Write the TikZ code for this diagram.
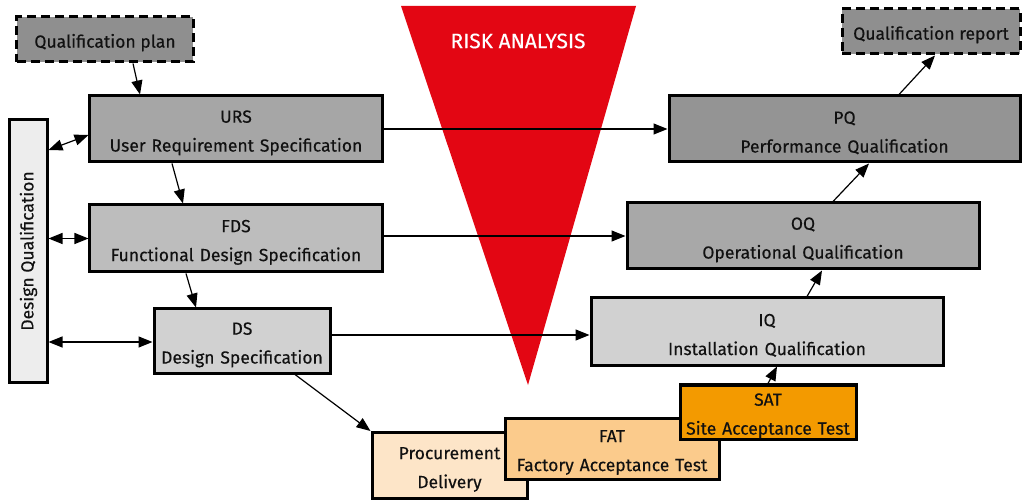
\documentclass[tikz,border=0pt]{standalone}
\usepackage{fontspec}
\setmainfont{Fira Sans}[FakeBold=0.3]
\usetikzlibrary{arrows.meta}
\definecolor{riskred}{HTML}{E30613}
\definecolor{txt}{HTML}{111111}
\tikzset{
  box/.style={draw=black, line width=3bp, inner sep=0pt, align=center, text=txt,
    font=\fontsize{17.6}{29}\selectfont, execute at begin node={\rule{0pt}{20bp}}},
  dbox/.style={box, dash pattern=on 9bp off 5bp},
  arr/.style={line width=1.2bp, -{Triangle[length=14bp,width=11bp]}},
  darr/.style={line width=1.2bp, {Triangle[length=14bp,width=11bp]}-{Triangle[length=14bp,width=11bp]}},
}
\begin{document}
\begin{tikzpicture}[x=1bp,y=-1bp]
\useasboundingbox (0,0) rectangle (1023,500);
\fill[riskred] (401,6) -- (636,6) -- (528,385) -- cycle;
\node[text=white, font=\fontsize{21}{24}\selectfont] (risk) at (518,41) {RISK ANALYSIS};

\node[dbox, fill=black!44, minimum width=176bp, minimum height=45bp] (qplan) at (105,39.5) {Qualification plan};
\node[box, fill=black!35, minimum width=292bp, minimum height=66bp, text width=292bp] (urs) at (236,129) {URS\\User Requirement Specification};
\node[box, fill=black!26, minimum width=292bp, minimum height=67bp, text width=292bp] (fds) at (236,238.5) {FDS\\Functional Design Specification};
\node[box, fill=black!18, minimum width=176bp, minimum height=64bp, text width=176bp] (ds) at (242,341) {DS\\Design Specification};
\node[box, fill=black!7, minimum width=37bp, minimum height=262bp, execute at begin node={}] (dq) at (28.5,251) {};
\node[text=txt, rotate=90, font=\fontsize{17.6}{20}\selectfont] (dqt) at (dq.center) {Design Qualification};

\node[box, fill={rgb,255:red,253;green,229;blue,200}, minimum width=155bp, minimum height=66bp, text width=155bp] (proc) at (449.5,465.5) {Procurement\\Delivery};
\node[box, fill={rgb,255:red,251;green,203;blue,140}, minimum width=214bp, minimum height=61bp, text width=214bp] (fat) at (612,448.5) {FAT\\Factory Acceptance Test};
\node[box, fill={rgb,255:red,243;green,154;blue,0}, minimum width=176bp, minimum height=54bp, text width=176bp] (sat) at (768,412) {SAT\\Site Acceptance Test};

\node[box, fill=black!18, minimum width=352bp, minimum height=67bp, text width=352bp] (iq) at (767,331.5) {IQ\\Installation Qualification};
\node[box, fill=black!34, minimum width=352bp, minimum height=66bp, text width=352bp] (oq) at (803,236) {OQ\\Operational Qualification};
\node[box, fill=black!42, minimum width=351bp, minimum height=66bp, text width=351bp] (pq) at (844.5,129) {PQ\\Performance Qualification};
\node[dbox, fill=black!44, minimum width=178bp, minimum height=45bp] (qrep) at (931,31.5) {Qualification report};

% left column flow
\draw[arr] ([xshift=28bp]qplan.south) -- ([xshift=-96bp]urs.north);
\draw[arr] ([xshift=-64bp]urs.south) -- ([xshift=-53bp]fds.north);
\draw[arr] ([xshift=-50bp]fds.south) -- ([xshift=-46bp]ds.north);
\draw[arr] ([xshift=53bp]ds.south) -- (proc.north west);

% horizontal links
\draw[arr] (urs.east) -- (pq.west);
\draw[arr] (fds.east |- oq.west) -- (oq.west);
\draw[arr] ([yshift=6bp]ds.east) -- ([yshift=6bp]ds.east -| iq.west);

% right column flow
\draw[arr] (sat.north) -- ([xshift=10bp]iq.south);
\draw[arr] ([xshift=40bp]iq.north) -- ([xshift=19bp]oq.south);
\draw[arr] ([xshift=30bp]oq.north) -- ([xshift=24.5bp]pq.south);
\draw[arr] ([xshift=54.5bp]pq.north) -- ([xshift=4bp]qrep.south);

% design qualification links
\draw[darr] ([yshift=101bp]dq.east) -- ([yshift=-6bp]urs.west);
\draw[darr] (dq.east |- fds.west) -- (fds.west);
\draw[darr] (dq.east |- 0,342) -- (ds.west |- 0,342);
\end{tikzpicture}
\end{document}
